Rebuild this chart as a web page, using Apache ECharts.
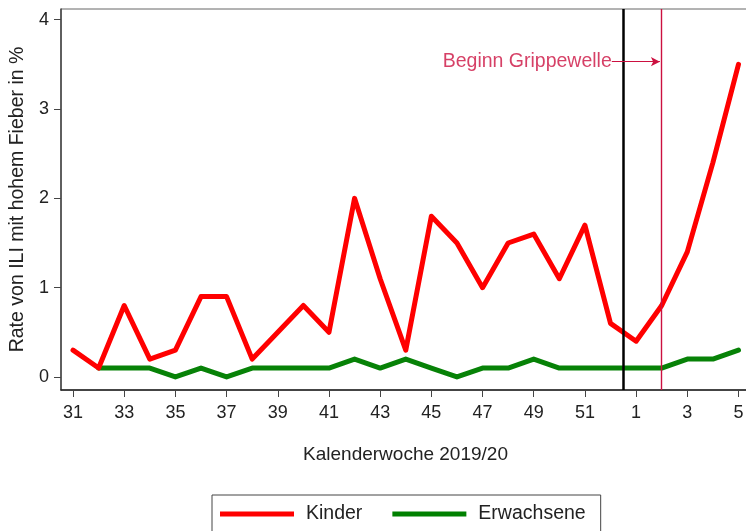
<!DOCTYPE html>
<html>
<head>
	<meta charset="utf-8" />
	<title>ILI Rate Kinder / Erwachsene</title>
	<script src="https://cdn.jsdelivr.net/npm/echarts@6/dist/echarts.min.js"></script>
</head>
<body style="margin:0;">
	<!-- chart container -->
	<div id="main" style="width: 746px;height: 531px;"></div>
	<script type="text/javascript">

		// Kalenderwochen 2019/20
		var weeks = ['31','32','33','34','35','36','37','38','39','40','41','42','43','44','45','46','47','48','49','50','51','52','1','2','3','4','5'];
		var kinder = [0.3,0.1,0.8,0.2,0.3,0.9,0.9,0.2,0.5,0.8,0.5,2.0,1.1,0.3,1.8,1.5,1.0,1.5,1.6,1.1,1.7,0.6,0.4,0.8,1.4,2.4,3.5];
		var erwachsene = [null,0.1,0.1,0.1,0.0,0.1,0.0,0.1,0.1,0.1,0.1,0.2,0.1,0.2,0.1,0.0,0.1,0.1,0.2,0.1,0.1,0.1,0.1,0.1,0.2,0.2,0.3];
		var yTicks = [0, 1, 2, 3, 4];
		var xTicks = [0, 2, 4, 6, 8, 10, 12, 14, 16, 18, 20, 22, 24, 26];
		var jahreswechsel = 21.5;   // between KW 52 and KW 1
		var grippewelle = 23;       // KW 2

		var myChart = echarts.init(document.getElementById('main'));

		function toPairs(arr) {
			return arr.map(function (v, i) { return [i, v]; });
		}

		var font = 'Liberation Sans, Arial, sans-serif';
		var crimson = '#cc1040';

		var option = {
			animation: false,
			textStyle: { fontFamily: font },
			grid: {
				left: 61, top: 9, right: -4, bottom: 141,
				outerBoundsMode: 'none',
				show: true, borderColor: '#666', borderWidth: 1
			},
			legend: {
				data: ['Kinder', 'Erwachsene'],
				left: 212, top: 495,
				padding: [9, 15, 12, 8],
				borderColor: '#444', borderWidth: 1,
				itemWidth: 74, itemHeight: 5, itemGap: 30,
				icon: 'rect',
				textStyle: { fontSize: 19.5, color: '#222', fontFamily: font, padding: [0, 0, 0, 7] }
			},
			xAxis: {
				type: 'value',
				min: -0.47, max: 26.45,
				name: 'Kalenderwoche 2019/20',
				nameLocation: 'middle',
				nameGap: 55,
				nameTextStyle: { fontSize: 19, color: '#222' },
				splitLine: { show: false },
				axisLine: { onZero: false, lineStyle: { color: '#222', width: 1.5 } },
				axisTick: { customValues: xTicks, length: 7, lineStyle: { color: '#444' } },
				axisLabel: {
					customValues: xTicks,
					fontSize: 18, color: '#222', margin: 14,
					formatter: function (v) { return weeks[Math.round(v)]; }
				}
			},
			yAxis: {
				type: 'value',
				min: -0.146, max: 4.12,
				name: 'Rate von ILI mit hohem Fieber in %',
				nameLocation: 'middle',
				nameGap: 31,
				nameTextStyle: { fontSize: 19.5, color: '#222' },
				splitLine: { show: false },
				axisLine: { show: true, onZero: false, lineStyle: { color: '#444', width: 1.5 } },
				axisTick: { show: true, customValues: yTicks, length: 7, lineStyle: { color: '#444' } },
				axisLabel: { customValues: yTicks, fontSize: 18, color: '#222', margin: 12 }
			},
			series: [
				{
					name: 'Kinder',
					type: 'line',
					data: toPairs(kinder),
					symbol: 'none',
					color: '#ff0000',
					lineStyle: { width: 5, color: '#ff0000', cap: 'round', join: 'round' },
					z: 3,
					markLine: {
						silent: true,
						symbol: 'none',
						animation: false,
						label: { show: false },
						data: [
							{ xAxis: jahreswechsel, lineStyle: { color: '#000', width: 2.5, type: 'solid' } },
							{ xAxis: grippewelle, lineStyle: { color: crimson, width: 1.4, type: 'solid' } },
							[
								{ coord: [21.05, 3.53], symbol: 'none' },
								{ coord: [22.93, 3.53], symbol: 'arrow', symbolSize: [7, 9] }
							]
						],
						lineStyle: { color: crimson, width: 1, type: 'solid' }
					}
				},
				{
					name: 'Erwachsene',
					type: 'line',
					data: toPairs(erwachsene),
					symbol: 'none',
					color: '#008000',
					lineStyle: { width: 5, color: '#078207', cap: 'round', join: 'round' },
					z: 2
				},
				{
					type: 'scatter',
					data: [[21.05, 3.53]],
					symbolSize: 0,
					silent: true,
					label: {
						show: true,
						position: 'left',
						distance: 0,
						formatter: 'Beginn Grippewelle',
						color: crimson,
						fontSize: 19.5,
						fontFamily: font
					}
				}
			]
		};

		myChart.setOption(option);

	</script>
</body>
</html>
